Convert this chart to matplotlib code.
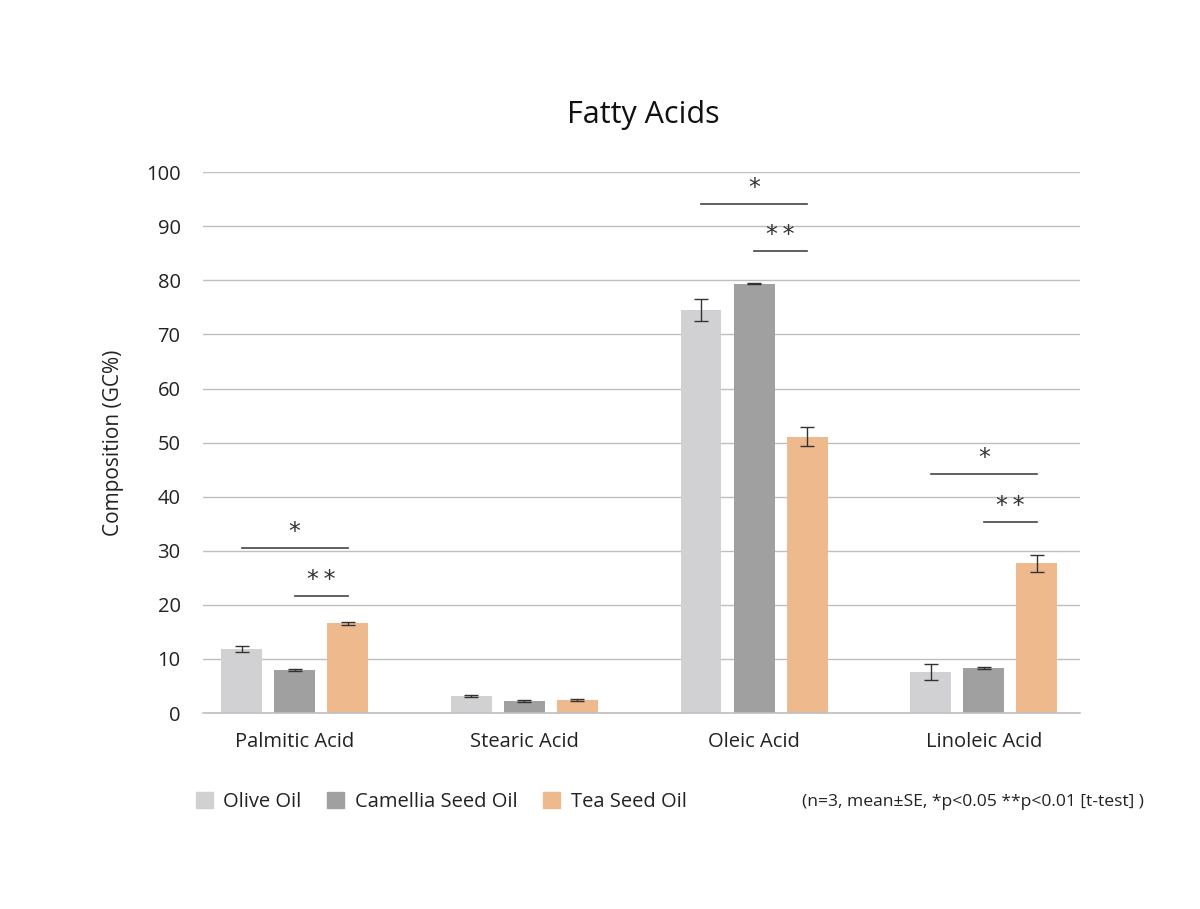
import numpy as np
import matplotlib
matplotlib.use('Agg')
import matplotlib.pyplot as plt
from matplotlib.patches import Patch

plt.rcParams['font.family'] = ['Open Sans', 'DejaVu Sans']

# Data
acids = ['Palmitic Acid', 'Stearic Acid', 'Oleic Acid', 'Linoleic Acid']
oils = ['Olive Oil', 'Camellia Seed Oil', 'Tea Seed Oil']
olive = [11.8, 3.1, 74.5, 7.6]
olive_se = [0.5, 0.15, 2.0, 1.5]
camellia = [8.0, 2.2, 79.4, 8.3]
camellia_se = [0.2, 0.15, 0.1, 0.2]
tea = [16.6, 2.4, 51.1, 27.7]
tea_se = [0.3, 0.15, 1.7, 1.6]

# significance bar heights (None = no bracket)
sig_one = [30.5, None, 94.1, 44.2]   # olive vs tea, *
sig_two = [21.6, None, 85.4, 35.3]   # camellia vs tea, **

colors = ['#d1d1d3', '#a0a0a0', '#eeb98c']

fig = plt.figure(figsize=(12, 9.09), dpi=100)
ax = fig.add_axes([0.169, 0.2156, 0.7308, 0.595])

x = np.arange(len(acids))
w = 0.178
step = 0.231
series = [(olive, olive_se), (camellia, camellia_se), (tea, tea_se)]
for i, (vals, se) in enumerate(series):
    ax.bar(x + (i - 1) * step, vals, w, color=colors[i], zorder=2)
    ax.errorbar(x + (i - 1) * step, vals, yerr=se, fmt='none', ecolor='#333333',
                elinewidth=1, capsize=5, capthick=1, zorder=3)

for k in range(len(acids)):
    if sig_one[k] is not None:
        ax.plot([x[k] - step, x[k] + step], [sig_one[k]] * 2, color='#444444', lw=1.2, zorder=3)
        ax.text(x[k], sig_one[k] + 0.8, '*', ha='center', va='bottom', fontsize=17,
                color='#333333', family='DejaVu Sans')
    if sig_two[k] is not None:
        ax.plot([x[k], x[k] + step], [sig_two[k]] * 2, color='#444444', lw=1.2, zorder=3)
        ax.text(x[k] + step / 2, sig_two[k] + 0.8, '*\u2009*', ha='center', va='bottom', fontsize=17,
                color='#333333', family='DejaVu Sans')

ax.set_xlim(-0.40, 3.418)
ax.set_ylim(0, 100)
ax.set_yticks(np.arange(0, 101, 10))
ax.set_xticks(x)
ax.set_xticklabels(acids, fontsize=14.5, color='#222222')
ax.tick_params(axis='y', labelsize=14.5, labelcolor='#222222', length=0, pad=16)
ax.tick_params(axis='x', length=0, pad=14)
ax.yaxis.grid(True, color='#bfbfbf', lw=1, zorder=0)
ax.set_axisbelow(True)
for s in ['top', 'right', 'left']:
    ax.spines[s].set_visible(False)
ax.spines['bottom'].set_color('#bfbfbf')
ax.spines['bottom'].set_linewidth(1.2)
ax.set_ylabel('Composition (GC%)', fontsize=15, color='#222222', labelpad=16)

fig.text(0.536, 0.873, 'Fatty Acids', ha='center', va='center', fontsize=22, color='#111111')

handles = [Patch(color=c) for c in colors]
fig.legend(handles, oils, loc='center left', bbox_to_anchor=(0.148, 0.118), ncol=3,
           frameon=False, fontsize=14.5, handlelength=0.85, handleheight=0.85,
           handletextpad=0.5, columnspacing=1.3, labelcolor='#222222')
fig.text(0.953, 0.118, '(n=3, mean±SE, *p<0.05 **p<0.01 [t-test] )', ha='right', va='center',
         fontsize=12.6, color='#222222')

fig.savefig('out.png', dpi=100)
